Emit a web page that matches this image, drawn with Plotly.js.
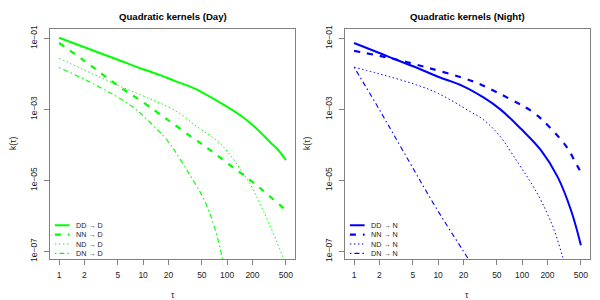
<!DOCTYPE html>
<html><head><meta charset="utf-8">
<script src="https://cdn.plot.ly/plotly-3.0.1.min.js"></script>
<style>html,body{margin:0;padding:0;background:#fff}#chart{width:600px;height:300px}</style>
</head><body><div id="chart"></div>
<script>
// ---- text ----
const panelTitles = ["Quadratic kernels (Day)", "Quadratic kernels (Night)"];
const xTickVals = [1, 2, 5, 10, 20, 50, 100, 200, 500];
const xTickText = ["1", "2", "5", "10", "20", "50", "100", "200", "500"];
const yTickVals = [1e-1, 1e-3, 1e-5, 1e-7];
const yTickText = ["1e\u221201", "1e\u221203", "1e\u221205", "1e\u221207"];
const xTitle = "\u03c4";
const yTitle = "k(\u03c4)";
const dayNames = ["DD \u2192 D", "NN \u2192 D", "ND \u2192 D", "DN \u2192 D"];
const nightNames = ["DD \u2192 N", "NN \u2192 N", "ND \u2192 N", "DN \u2192 N"];

// ---- data: tau and log10 k(tau) ----
const dayDD_tau = [1, 2, 5, 10, 16.2, 24.5, 40.6, 100, 150, 212, 336, 400, 500];
const dayDD_log = [-0.98, -1.25, -1.60, -1.87, -2.04, -2.21, -2.41, -2.93, -3.20, -3.49, -3.96, -4.13, -4.43];
const dayNN_tau = [1, 2, 5, 10, 18, 23, 40, 53, 100, 212, 280, 500];
const dayNN_log = [-1.13, -1.63, -2.33, -2.80, -3.23, -3.41, -3.82, -4.02, -4.51, -5.09, -5.33, -5.84];
const dayND_tau = [1, 2, 4.9, 10, 19.5, 30, 40.6, 77, 100, 147, 200, 255, 300, 369, 420, 478, 500];
const dayND_log = [-1.56, -1.89, -2.31, -2.62, -2.92, -3.18, -3.43, -3.90, -4.18, -4.72, -5.22, -5.75, -6.10, -6.60, -6.92, -7.25, -7.38];
const dayDN_tau = [1, 2.7, 7.4, 12.3, 19.5, 28, 40.6, 53.5, 70.5, 87, 95];
const dayDN_log = [-1.82, -2.31, -2.92, -3.39, -3.88, -4.43, -5.05, -5.56, -6.31, -7.16, -7.6];

const nightDD_tau = [1, 2, 3, 5.5, 10, 20, 35, 55, 96, 167, 264, 381, 500];
const nightDD_log = [-1.13, -1.41, -1.58, -1.82, -2.08, -2.35, -2.67, -3.00, -3.54, -4.15, -4.90, -5.84, -6.83];
const nightNN_tau = [1, 3, 5.5, 11.6, 26, 38, 73, 133, 220, 348, 410, 500];
const nightNN_log = [-1.35, -1.58, -1.74, -1.95, -2.21, -2.38, -2.72, -3.07, -3.54, -4.10, -4.40, -4.78];
const nightND_tau = [1, 2, 5.55, 10, 24, 35, 55.5, 72.5, 96, 130, 167, 200, 241, 303, 330];
const nightND_log = [-1.81, -2.00, -2.31, -2.55, -3.06, -3.30, -3.78, -4.18, -4.62, -5.10, -5.56, -5.95, -6.41, -7.16, -7.50];
const nightDN_tau = [1, 1.85, 3.6, 9.6, 23.6, 26];
const nightDN_log = [-1.81, -2.87, -4.06, -5.80, -7.27, -7.45];

// ---- styles ----
const FONT = "Liberation Sans, Arial, Helvetica, sans-serif";
const dayColor = "#00ff00";
const nightColor = "#0000ff";
const lineStyles = [
  {dash: "solid", width: 2},
  {dash: "6px,7px", width: 2.2},
  {dash: "1.5px,2.5px", width: 1},
  {dash: "1.5px,3px,5px,3px", width: 1.1}
];

const toK = a => a.map(v => Math.pow(10, v));
const daySeries = [[dayDD_tau, dayDD_log], [dayNN_tau, dayNN_log], [dayND_tau, dayND_log], [dayDN_tau, dayDN_log]];
const nightSeries = [[nightDD_tau, nightDD_log], [nightNN_tau, nightNN_log], [nightND_tau, nightND_log], [nightDN_tau, nightDN_log]];

const traces = [];
function addPanel(series, names, color, xa, ya) {
  series.forEach((s, i) => {
    traces.push({
      x: s[0], y: toK(s[1]), name: names[i], type: "scatter", mode: "lines",
      xaxis: xa, yaxis: ya, showlegend: false, hoverinfo: "skip",
      line: {color: color, width: lineStyles[i].width, dash: lineStyles[i].dash, shape: "spline", smoothing: 1.1}
    });
  });
}
addPanel(daySeries, dayNames, dayColor, "x", "y");
addPanel(nightSeries, nightNames, nightColor, "x2", "y2");

const axCommon = {
  showgrid: false, zeroline: false, showline: true, mirror: true,
  linecolor: "#808080", linewidth: 1.2, ticks: "outside", ticklen: 5, tickcolor: "#808080", tickwidth: 1,
  tickfont: {family: FONT, size: 8.5, color: "#222"}
};
const xCommon = Object.assign({}, axCommon, {type: "log", range: [-0.108, 2.807], tickmode: "array",
  tickvals: xTickVals, ticktext: xTickText, ticklabelstandoff: 3});
const yCommon = Object.assign({}, axCommon, {type: "log", range: [-7.215, -0.735], tickmode: "array",
  tickvals: yTickVals, ticktext: yTickText, tickangle: -90, ticklabelstandoff: 3});

const domL = [50 / 600, 295 / 600];
const domR = [345 / 600, 590 / 600];
const domY = [1 - 259 / 300, 1 - 29 / 300];

const annotations = [];
const shapes = [];
[[panelTitles[0], domL], [panelTitles[1], domR]].forEach(([t, d]) => {
  annotations.push({text: "<b>" + t + "</b>", xref: "paper", yref: "paper", x: (d[0] + d[1]) / 2, y: 1 - 17 / 300,
    showarrow: false, xanchor: "center", yanchor: "middle", font: {family: FONT, size: 9.6, color: "#000"}});
  annotations.push({text: xTitle, xref: "paper", yref: "paper", x: (d[0] + d[1]) / 2, y: 1 - 295 / 300,
    showarrow: false, xanchor: "center", yanchor: "middle", font: {family: FONT, size: 8.5, color: "#222"}});
});
annotations.push({text: yTitle, xref: "paper", yref: "paper", x: 13 / 600, y: 1 - 144 / 300, textangle: -90,
  showarrow: false, xanchor: "center", yanchor: "middle", font: {family: FONT, size: 8.5, color: "#222"}});
annotations.push({text: yTitle, xref: "paper", yref: "paper", x: 307 / 600, y: 1 - 144 / 300, textangle: -90,
  showarrow: false, xanchor: "center", yanchor: "middle", font: {family: FONT, size: 8.5, color: "#222"}});

// compact R-style legends: one text block per panel, sample lines beside each row
const legFont = 7.2;
const legSpacing = legFont * 1.3;     // plotly line spacing
const legCenterPx = 239.3;            // vertical centre of the legend block (page px)
const plotH = 230, plotBottom = 259;
function addLegend(names, color, xd, yd) {
  annotations.push({text: names.join("<br>"), xref: xd, yref: yd, x: 0.10, y: (plotBottom - legCenterPx) / plotH,
    xanchor: "left", yanchor: "middle", align: "left", borderpad: 0, showarrow: false,
    font: {family: FONT, size: legFont, color: "#222"}});
  names.forEach((n, i) => {
    const py = legCenterPx + (i - 1.5) * legSpacing;
    const yy = (plotBottom - py) / plotH;
    shapes.push({type: "line", xref: xd, yref: yd, x0: 0.02, x1: 0.08, y0: yy, y1: yy,
      line: {color: color, width: lineStyles[i].width, dash: lineStyles[i].dash}});
  });
}
addLegend(dayNames, dayColor, "x domain", "y domain");
addLegend(nightNames, nightColor, "x2 domain", "y2 domain");

const layout = {
  width: 600, height: 300, margin: {l: 0, r: 0, t: 0, b: 0},
  paper_bgcolor: "#fff", plot_bgcolor: "#fff", showlegend: false,
  xaxis: Object.assign({}, xCommon, {domain: domL, anchor: "y"}),
  yaxis: Object.assign({}, yCommon, {domain: domY, anchor: "x"}),
  xaxis2: Object.assign({}, xCommon, {domain: domR, anchor: "y2"}),
  yaxis2: Object.assign({}, yCommon, {domain: domY, anchor: "x2"}),
  annotations: annotations, shapes: shapes
};
Plotly.newPlot("chart", traces, layout, {staticPlot: true, displayModeBar: false});
</script></body></html>
